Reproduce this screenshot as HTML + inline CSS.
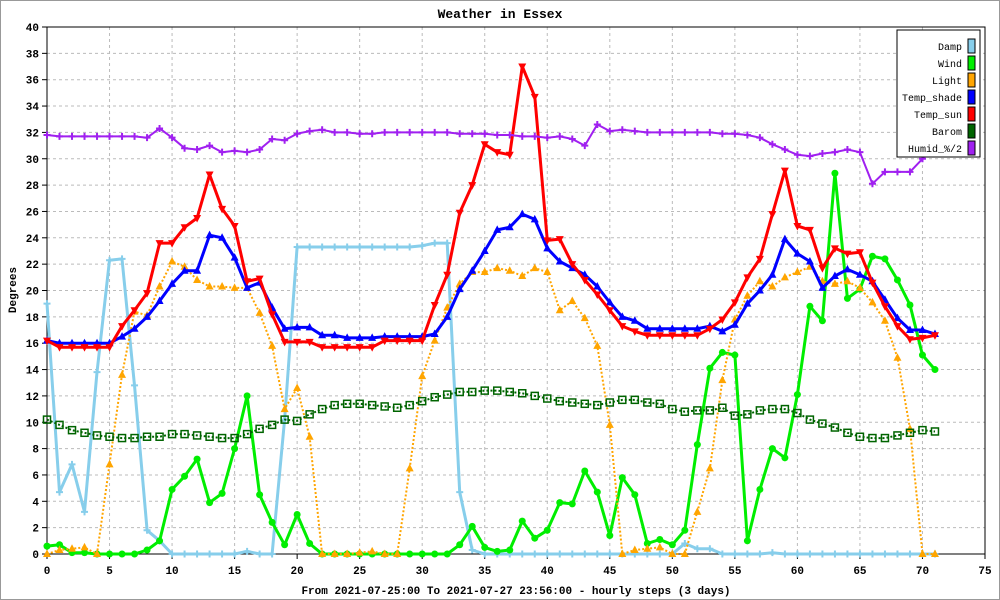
<!DOCTYPE html>
<html><head><meta charset="utf-8"><style>
body{margin:0;background:#fff;}
svg{display:block;font-family:"Liberation Mono",monospace;}
</style></head><body>
<svg id="chart" width="1000" height="600">
<rect x="0.5" y="0.5" width="999" height="599" fill="#fff" stroke="#999"/>
<text x="500" y="18" text-anchor="middle" font-size="13" font-weight="bold">Weather in Essex</text>
<text transform="translate(16,290) rotate(-90)" text-anchor="middle" font-size="11" font-weight="bold">Degrees</text>
<text x="516" y="594" text-anchor="middle" font-size="11" font-weight="bold">From 2021-07-25:00 To 2021-07-27 23:56:00 - hourly steps (3 days)</text>
<g id="grid"></g><g id="axes"></g><g id="series"></g><g id="legend"></g>
</svg>
<script>
const categories = Array.from({length:72},(_,i)=>i);
const seriesNames = ["Damp","Wind","Light","Temp_shade","Temp_sun","Barom","Humid_%/2"];
const damp = [19,4.7,6.8,3.2,13.8,22.3,22.4,12.8,1.8,1.0,0,0,0,0,0,0,0.2,0,0,10.2,23.3,23.3,23.3,23.3,23.3,23.3,23.3,23.3,23.3,23.3,23.4,23.6,23.6,4.7,0.3,0,0,0,0,0,0,0,0,0,0,0,0,0,0,0,0,0.8,0.4,0.4,0,0,0,0,0.1,0,0,0,0,0,0,0,0,0,0,0,0,0];
const wind = [0.6,0.7,0.1,0.1,0,0,0,0,0.3,1.0,4.9,5.9,7.2,3.9,4.6,8.0,12.0,4.5,2.4,0.7,3.0,0.8,0,0,0,0,0,0,0,0,0,0,0,0.7,2.1,0.5,0.2,0.3,2.5,1.2,1.8,3.9,3.8,6.3,4.7,1.4,5.8,4.5,0.8,1.1,0.7,1.8,8.3,14.1,15.3,15.1,1.0,4.9,8.0,7.3,12.1,18.8,17.7,28.9,19.4,20.1,22.6,22.4,20.8,18.9,15.1,14.0];
const light = [0,0.3,0.4,0.5,0,6.8,13.6,18.4,18.1,20.3,22.2,21.8,20.8,20.3,20.3,20.2,20.2,18.3,15.8,11.0,12.6,8.9,0,0,0,0.1,0.2,0,0,6.5,13.5,16.2,18.7,20.5,21.4,21.4,21.7,21.5,21.1,21.7,21.4,18.5,19.2,17.9,15.8,9.8,0,0.3,0.4,0.5,0,0,3.2,6.5,13.2,17.8,19.6,20.7,20.3,21.0,21.4,21.8,20.7,20.5,20.7,20.2,19.1,17.7,14.9,9.5,0,0];
const tempShade = [16.2,16.0,16.0,16.0,16.0,16.0,16.5,17.1,18.0,19.2,20.5,21.5,21.5,24.2,24.0,22.5,20.2,20.6,18.7,17.1,17.2,17.2,16.6,16.6,16.4,16.4,16.4,16.5,16.5,16.5,16.5,16.7,18.0,20.1,21.5,23.0,24.6,24.8,25.8,25.4,23.2,22.2,21.7,21.2,20.3,19.1,18.0,17.7,17.1,17.1,17.1,17.1,17.1,17.3,16.9,17.4,19.0,20.0,21.2,23.9,22.8,22.2,20.2,21.1,21.6,21.2,20.7,19.3,17.9,17.0,17.0,16.7];
const tempSun = [16.2,15.7,15.7,15.7,15.7,15.7,17.3,18.5,19.8,23.6,23.6,24.8,25.5,28.8,26.2,24.9,20.7,20.9,18.2,16.1,16.1,16.1,15.7,15.7,15.7,15.7,15.7,16.2,16.2,16.2,16.2,18.9,21.2,25.9,28.0,31.1,30.5,30.3,37.0,34.7,23.8,23.9,22.0,20.8,19.7,18.5,17.3,16.9,16.6,16.6,16.6,16.6,16.6,17.1,17.8,19.1,21.0,22.4,25.8,29.1,24.9,24.6,21.7,23.2,22.8,22.9,20.6,18.8,17.3,16.3,16.4,16.6];
const barom = [10.2,9.8,9.4,9.2,9.0,8.9,8.8,8.8,8.9,8.9,9.1,9.1,9.0,8.9,8.8,8.8,9.1,9.5,9.8,10.2,10.1,10.6,11.0,11.3,11.4,11.4,11.3,11.2,11.1,11.3,11.6,11.9,12.1,12.3,12.3,12.4,12.4,12.3,12.2,12.0,11.8,11.6,11.5,11.4,11.3,11.5,11.7,11.7,11.5,11.4,11.0,10.8,10.9,10.9,11.1,10.5,10.6,10.9,11.0,11.0,10.7,10.2,9.9,9.6,9.2,8.9,8.8,8.8,9.0,9.2,9.4,9.3];
const humid = [31.8,31.7,31.7,31.7,31.7,31.7,31.7,31.7,31.6,32.3,31.6,30.8,30.7,31.0,30.5,30.6,30.5,30.7,31.5,31.4,31.9,32.1,32.2,32.0,32.0,31.9,31.9,32.0,32.0,32.0,32.0,32.0,32.0,31.9,31.9,31.9,31.8,31.8,31.7,31.7,31.6,31.7,31.5,31.0,32.6,32.1,32.2,32.1,32.0,32.0,32.0,32.0,32.0,32.0,31.9,31.9,31.8,31.6,31.1,30.7,30.3,30.2,30.4,30.5,30.7,30.5,28.1,29.0,29.0,29.0,30.0,31.2];
const xTicks = [0,5,10,15,20,25,30,35,40,45,50,55,60,65,70,75];
const yTicks = [0,2,4,6,8,10,12,14,16,18,20,22,24,26,28,30,32,34,36,38,40];

const NS="http://www.w3.org/2000/svg";
const X0=47,X1=985,Y0=554,Y1=27;
const xs=v=>X0+(v/75)*(X1-X0);
const ys=v=>Y0-(v/40)*(Y0-Y1);
function mk(tag,attrs,parent){const e=document.createElementNS(NS,tag);for(const k in attrs)e.setAttribute(k,attrs[k]);parent.appendChild(e);return e;}
const grid=document.getElementById('grid'),axes=document.getElementById('axes'),ser=document.getElementById('series'),leg=document.getElementById('legend');
mk('rect',{x:X0,y:Y1,width:X1-X0,height:Y0-Y1,fill:'none',stroke:'#000','stroke-width':1},axes);
xTicks.forEach(t=>{
  if(t>0&&t<75){const g=mk('line',{x1:xs(t),x2:xs(t),y1:Y1,y2:Y0,stroke:'#bbb','stroke-dasharray':'3,3'},grid);
  
  }
  mk('line',{x1:xs(t),x2:xs(t),y1:Y0,y2:Y0+5,stroke:'#000'},axes);
  const tx=mk('text',{x:xs(t),y:Y0+20,'text-anchor':'middle','font-size':11,'font-weight':'bold'},axes);
  tx.textContent=t;
  
  
});
yTicks.forEach(t=>{
  if(t>0&&t<40){const g=mk('line',{x1:X0,x2:X1,y1:ys(t),y2:ys(t),stroke:'#bbb','stroke-dasharray':'3,3'},grid);
  
  }
  mk('line',{x1:X0-5,x2:X0,y1:ys(t),y2:ys(t),stroke:'#000'},axes);
  const tx=mk('text',{x:X0-8,y:ys(t)+4,'text-anchor':'end','font-size':11,'font-weight':'bold'},axes);
  tx.textContent=t;
  
  
});
const cfg=[
 {name:'Damp',data:damp,color:'#87ceeb',w:3,dash:null,m:'plus'},
 {name:'Wind',data:wind,color:'#00ee00',w:3,dash:null,m:'circle'},
 {name:'Light',data:light,color:'#ffa500',w:2,dash:'2,2',m:'tri'},
 {name:'Temp_shade',data:tempShade,color:'#0000ff',w:3,dash:null,m:'tri'},
 {name:'Temp_sun',data:tempSun,color:'#ff0000',w:3,dash:null,m:'trid'},
 {name:'Barom',data:barom,color:'#006400',w:2,dash:'2,2',m:'square'},
 {name:'Humid_%/2',data:humid,color:'#a020f0',w:2,dash:null,m:'plus'}
];
cfg.forEach((s,si)=>{
  const g=mk('g',{},ser);
  
  
  const pts=s.data.map((v,i)=>xs(categories[i]).toFixed(1)+','+ys(v).toFixed(1)).join(' ');
  const a={points:pts,fill:'none',stroke:s.color,'stroke-width':s.w,'stroke-linejoin':'round'};
  if(s.dash)a['stroke-dasharray']=s.dash;
  const pl=mk('polyline',a,g);
  
  
  s.data.forEach((v,i)=>{
    const x=xs(categories[i]),y=ys(v);let e;
    if(s.m==='circle')e=mk('circle',{cx:x,cy:y,r:3.5,fill:s.color},g);
    else if(s.m==='square')e=mk('rect',{x:x-3.5,y:y-3.5,width:7,height:7,fill:'none',stroke:s.color,'stroke-width':1.5},g);
    else if(s.m==='tri')e=mk('polygon',{points:`${x},${y-4.5} ${x-4},${y+3} ${x+4},${y+3}`,fill:s.color},g);
    else if(s.m==='trid')e=mk('polygon',{points:`${x},${y+4.5} ${x-4},${y-3} ${x+4},${y-3}`,fill:s.color},g);
    else e=mk('path',{d:`M${x-3.5},${y}H${x+3.5}M${x},${y-3.5}V${y+3.5}`,stroke:s.color,'stroke-width':2},g);
    
    
  });
  const ly=46+si*17;
  const t=mk('text',{x:962,y:ly+4,'text-anchor':'end','font-size':10},leg);
  t.textContent=s.name;
  
  
  const r=mk('rect',{x:968,y:ly-7,width:7,height:14,fill:s.color,stroke:'#000','stroke-width':1},leg);
  
  
});
const lb=mk('rect',{x:897,y:30,width:83,height:127,fill:'#fff',stroke:'#000'},leg);
leg.insertBefore(lb,leg.firstChild);


</script>
</body></html>
